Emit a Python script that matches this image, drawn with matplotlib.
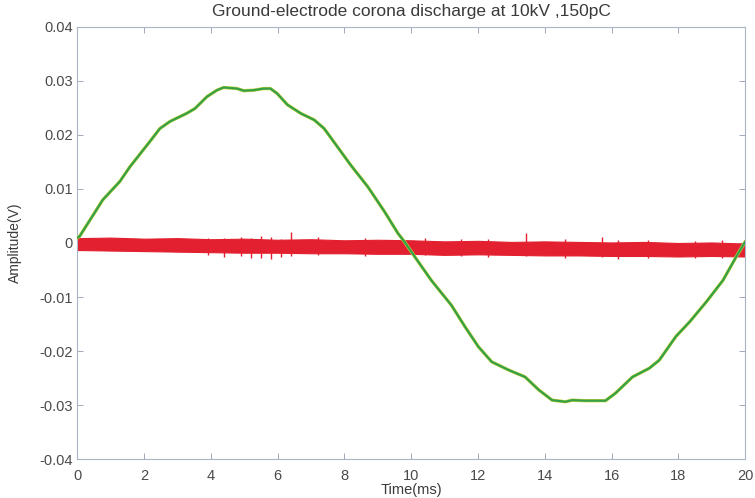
import matplotlib
matplotlib.use("Agg")
import matplotlib.pyplot as plt

plt.rcParams['font.family'] = ['Liberation Sans', 'DejaVu Sans']
plt.rcParams['axes.unicode_minus'] = False

# green trace (ground-electrode signal)
t_green = [0.0, 0.06, 0.76, 1.27, 1.57, 2.17, 2.47, 2.77, 3.27, 3.52, 3.88, 4.18, 4.38,
           4.78, 4.98, 5.28, 5.58, 5.78, 5.98, 6.29, 6.69, 7.09, 7.39, 7.79, 8.19, 8.70,
           9.20, 9.60, 9.80, 10.10, 10.60, 11.20, 11.61, 12.01, 12.41, 12.91, 13.41,
           13.82, 14.22, 14.62, 14.82, 15.20, 15.82, 16.12, 16.63, 17.13, 17.43, 17.93,
           18.34, 18.84, 19.34, 19.74, 20.0]
v_green = [0.0010, 0.0012, 0.0080, 0.0114, 0.0141, 0.0188, 0.0212, 0.0225, 0.0240, 0.0249,
           0.0271, 0.0283, 0.0288, 0.0286, 0.0282, 0.0283, 0.0286, 0.0286, 0.0277, 0.0256,
           0.0240, 0.0228, 0.0212, 0.0178, 0.0144, 0.0104, 0.0058, 0.0018, 0.0002, -0.0025,
           -0.0069, -0.0115, -0.0155, -0.0192, -0.0220, -0.0235, -0.0248, -0.0272, -0.0291,
           -0.0294, -0.0291, -0.0292, -0.0292, -0.0278, -0.0248, -0.0232, -0.0217, -0.0173,
           -0.0146, -0.0109, -0.0069, -0.0025, 0.0002]

# red trace (noise band) envelope
t_band = [0.0, 1.0, 2.0, 3.0, 4.0, 5.0, 6.0, 7.0, 8.0, 9.0, 10.0, 11.0, 12.0, 13.0,
          14.0, 15.0, 16.0, 17.0, 18.0, 19.0, 20.0]
band_hi = [0.0009, 0.0010, 0.0008, 0.0009, 0.0007, 0.0008, 0.0006, 0.0007, 0.0005, 0.0006,
           0.0005, 0.0003, 0.0004, 0.0002, 0.0003, 0.0002, 0.0001, 0.0002, 0.0000, 0.0001, -0.0001]
band_lo = [-0.0013, -0.0014, -0.0015, -0.0016, -0.0017, -0.0018, -0.0018, -0.0019, -0.0019,
           -0.0020, -0.0020, -0.0022, -0.0021, -0.0022, -0.0023, -0.0023, -0.0024, -0.0024,
           -0.0025, -0.0024, -0.0025]

# isolated spikes on the red trace
spike_t = [3.9, 4.4, 4.9, 5.2, 5.5, 5.8, 6.1, 6.4, 7.2, 8.6, 10.4, 11.5, 12.3, 13.45,
           14.6, 15.7, 16.2, 17.1, 18.5, 19.3]
spike_top = [0.0010, 0.0009, 0.0012, 0.0010, 0.0013, 0.0011, 0.0008, 0.0021, 0.0011, 0.0010,
             0.0010, 0.0008, 0.0007, 0.0018, 0.0007, 0.0012, 0.0006, 0.0006, 0.0004, 0.0005]
spike_bot = [-0.0022, -0.0026, -0.0024, -0.0028, -0.0027, -0.0029, -0.0026, -0.0024, -0.0022,
             -0.0024, -0.0023, -0.0025, -0.0026, -0.0025, -0.0027, -0.0026, -0.0030, -0.0028,
             -0.0028, -0.0027]

x_ticks = [0, 2, 4, 6, 8, 10, 12, 14, 16, 18, 20]
y_ticks = [-0.04, -0.03, -0.02, -0.01, 0, 0.01, 0.02, 0.03, 0.04]
y_labels = ['-0.04', '-0.03', '-0.02', '-0.01', '0', '0.01', '0.02', '0.03', '0.04']

fig = plt.figure(figsize=(7.55, 4.98), dpi=100)
ax = fig.add_axes([0.1026, 0.0783, 0.8842, 0.8675])

red = '#e3202f'
ax.fill_between(t_band, band_lo, band_hi, color=red, lw=0.8, edgecolor=red, zorder=2)
ax.vlines(spike_t, spike_bot, spike_top, colors=red, lw=1.0, zorder=2)
ax.plot(t_green, v_green, color='#c8d23a', lw=2.4, zorder=3)
ax.plot(t_green, v_green, color='#34a047', lw=1.6, zorder=4)

ax.set_xlim(0, 20)
ax.set_ylim(-0.04, 0.04)
ax.set_xticks(x_ticks)
ax.set_yticks(y_ticks)
ax.set_yticklabels(y_labels)
ax.tick_params(direction='in', top=True, right=True, length=4, width=0.6,
               color='#8f9bb0', labelcolor='#4a4a4a', labelsize=10.5)
ax.tick_params(axis='x', pad=7)
for s in ax.spines.values():
    s.set_color('#a9b4c6')
    s.set_linewidth(0.8)

ax.set_title('Ground-electrode corona discharge at 10kV ,150pC', fontsize=12.5,
             color='#3a3a3a', pad=8)
ax.set_xlabel('Time(ms)', fontsize=10.5, color='#3a3a3a', labelpad=0)
ax.set_ylabel('Amplitude(V)', fontsize=10, color='#3a3a3a', labelpad=12)

fig.savefig('out.png', dpi=100)
